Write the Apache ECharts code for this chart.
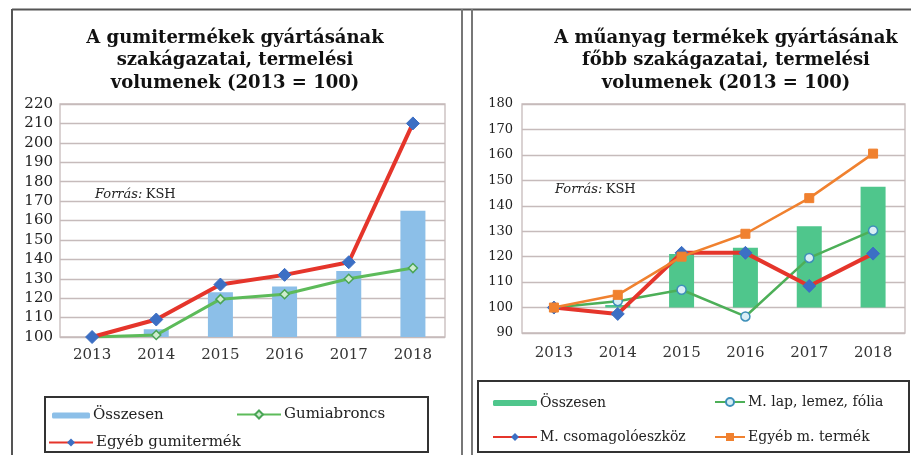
<!DOCTYPE html>
<html>
<head>
<meta charset="utf-8">
<script src="https://cdn.jsdelivr.net/npm/echarts@6/dist/echarts.min.js"></script>
<style>
html,body{margin:0;padding:0;background:#fff;}
#c{width:911px;height:455px;}
</style>
</head>
<body>
<div id="c"></div>
<script>
// ---- data ----
const years = ['2013', '2014', '2015', '2016', '2017', '2018'];

// Left chart: gumitermékek
const gumiTitle = ['A gumitermékek gyártásának', 'szakágazatai, termelési', 'volumenek (2013 = 100)'];
const gumiOsszesen = [100, 104, 123, 126, 134, 165];
const gumiabroncs = [100, 101, 119.5, 122, 130, 135.5];
const egyebGumi = [100, 109, 127, 132, 138.5, 210];
const gumiYTicks = { min: 100, max: 220, step: 10 };

// Right chart: műanyag termékek
const muTitle = ['A műanyag termékek gyártásának', 'főbb szakágazatai, termelési', 'volumenek (2013 = 100)'];
const muOsszesen = [100, 101, 121, 123.5, 132, 147.5];
const muLap = [100, 102.5, 107, 96.5, 119.5, 130.3];
const muCsomag = [100, 97.5, 121.5, 121.5, 108.5, 121.2];
const muEgyeb = [100, 105, 120, 129, 143, 160.5];
const muYTicks = { min: 90, max: 180, step: 10 };
const BASE = 100; // 2013 = 100 index baseline

const source = 'Forrás:';
const sourceOrg = 'KSH';

// ---- styling ----
const SERIF = '"DejaVu Serif", "Liberation Serif", serif';
const gridLine = '#c6bbbb';
const RED = '#e5352b', BLUE = '#3c6fc4', LGREEN = '#5dbb5a', LBLUE = '#8cbfe8';
const MGREEN = '#4fc68c', ORANGE = '#f0812f', GREEN2 = '#4daf58';

const chart = echarts.init(document.getElementById('c'), null, { renderer: 'canvas' });

function yAxis(gi, t, fs, margin) {
  return {
    type: 'value', gridIndex: gi, min: t.min, max: t.max, interval: t.step,
    axisLine: { show: false }, axisTick: { show: false },
    axisLabel: { fontFamily: SERIF, fontSize: fs, color: '#222', margin: margin },
    splitLine: { lineStyle: { color: gridLine, width: 1.3 } }
  };
}
function xAxis(gi, fs, margin) {
  return {
    type: 'category', gridIndex: gi, data: years, boundaryGap: true,
    axisLine: { show: false }, axisTick: { show: false },
    axisLabel: { fontFamily: SERIF, fontSize: fs, color: '#333', margin: margin }
  };
}
function titleText(lines, cx) {
  return lines.map((l, i) => ({
    type: 'text', x: cx, y: 38 + i * 22.5,
    style: { text: l, fontFamily: SERIF, fontWeight: 'bold', fontSize: 18, fill: '#111',
             align: 'center', verticalAlign: 'middle' }
  }));
}
function sourceText(x, y) {
  return {
    type: 'text', x: x, y: y,
    style: {
      text: '{i|' + source + '} {n|' + sourceOrg + '}',
      rich: {
        i: { fontFamily: SERIF, fontStyle: 'italic', fontSize: 13, fill: '#222' },
        n: { fontFamily: SERIF, fontSize: 13, fill: '#222' }
      },
      verticalAlign: 'middle'
    }
  };
}
function leg(name, left, top, iw, fs, barIcon) {
  const l = {
    data: [name], left: left, top: top, itemWidth: iw, itemHeight: 10, padding: 0,
    textStyle: { fontFamily: SERIF, fontSize: fs, color: '#222', padding: [0, 0, 0, -2] },
    selectedMode: false
  };
  if (barIcon) { l.icon = 'roundRect'; l.itemHeight = 6; l.top = top + 1; }
  return l;
}

const option = {
  animation: false,
  backgroundColor: '#fff',
  grid: [
    { left: 60, right: 466, top: 104, bottom: 118, show: true, borderColor: gridLine, borderWidth: 1.3 },
    { left: 522, right: 6, top: 104, bottom: 122, show: true, borderColor: gridLine, borderWidth: 1.3 }
  ],
  xAxis: [xAxis(0, 15, 11), xAxis(1, 15, 13)],
  yAxis: [yAxis(0, gumiYTicks, 15, 7), yAxis(1, muYTicks, 13, 9)],
  legend: [
    leg('Összesen', 52, 407, 38, 15, true),
    leg('Gumiabroncs', 236, 407, 44, 15),
    leg('Egyéb gumitermék', 48, 435, 44, 15),
    leg('Összesen ', 493, 395, 44, 14, true),
    leg('M. lap, lemez, fólia', 714, 395, 30, 14),
    leg('M. csomagolóeszköz', 492, 430, 44, 14),
    leg('Egyéb m. termék', 714, 430, 30, 14)
  ],
  series: [
    // left
    { name: 'Összesen', type: 'bar', xAxisIndex: 0, yAxisIndex: 0, data: gumiOsszesen,
      barWidth: 25, itemStyle: { color: LBLUE }, z: 1 },
    { name: 'Gumiabroncs', type: 'line', xAxisIndex: 0, yAxisIndex: 0, data: gumiabroncs,
      lineStyle: { color: LGREEN, width: 3 }, itemStyle: { color: '#cfeccf', borderColor: '#4aa556', borderWidth: 1.5 },
      symbol: 'diamond', symbolSize: 9, z: 3 },
    { name: 'Egyéb gumitermék', type: 'line', xAxisIndex: 0, yAxisIndex: 0, data: egyebGumi,
      lineStyle: { color: RED, width: 4 }, itemStyle: { color: BLUE, borderColor: BLUE },
      symbol: 'diamond', symbolSize: 13, z: 4 },
    // right
    { type: 'bar', xAxisIndex: 1, yAxisIndex: 1, stack: 'mu', data: muOsszesen.map(() => BASE),
      barWidth: 25, itemStyle: { color: 'rgba(0,0,0,0)' }, silent: true, z: 1 },
    { name: 'Összesen ', type: 'bar', xAxisIndex: 1, yAxisIndex: 1, stack: 'mu',
      data: muOsszesen.map(v => v - BASE), barWidth: 25, itemStyle: { color: MGREEN }, z: 1 },
    { name: 'M. lap, lemez, fólia', type: 'line', xAxisIndex: 1, yAxisIndex: 1, data: muLap,
      lineStyle: { color: GREEN2, width: 2.5 }, itemStyle: { color: '#d9eef5', borderColor: '#3d8fb8', borderWidth: 1.5 },
      symbol: 'circle', symbolSize: 9, z: 3 },
    { name: 'M. csomagolóeszköz', type: 'line', xAxisIndex: 1, yAxisIndex: 1, data: muCsomag,
      lineStyle: { color: RED, width: 4 }, itemStyle: { color: BLUE, borderColor: BLUE },
      symbol: 'diamond', symbolSize: 13, z: 4 },
    { name: 'Egyéb m. termék', type: 'line', xAxisIndex: 1, yAxisIndex: 1, data: muEgyeb,
      lineStyle: { color: ORANGE, width: 2.5 }, itemStyle: { color: ORANGE, borderColor: ORANGE },
      symbol: 'rect', symbolSize: 9, z: 5 }
  ],
  graphic: [
    // frame lines
    { type: 'line', shape: { x1: 12, y1: 9.5, x2: 911, y2: 9.5 }, style: { stroke: '#555', lineWidth: 2 } },
    { type: 'line', shape: { x1: 12, y1: 9, x2: 12, y2: 455 }, style: { stroke: '#555', lineWidth: 2 } },
    { type: 'line', shape: { x1: 462, y1: 9, x2: 462, y2: 455 }, style: { stroke: '#777', lineWidth: 2 } },
    { type: 'line', shape: { x1: 472, y1: 9, x2: 472, y2: 455 }, style: { stroke: '#777', lineWidth: 2 } },
    // legend boxes
    { type: 'rect', shape: { x: 45, y: 397, width: 383, height: 55 }, style: { fill: 'none', stroke: '#333', lineWidth: 2 } },
    { type: 'rect', shape: { x: 478, y: 381, width: 431, height: 71 }, style: { fill: 'none', stroke: '#333', lineWidth: 2 } },
    sourceText(95, 195),
    sourceText(555, 190)
  ].concat(titleText(gumiTitle, 235), titleText(muTitle, 726))
};
chart.setOption(option);
</script>
</body>
</html>
